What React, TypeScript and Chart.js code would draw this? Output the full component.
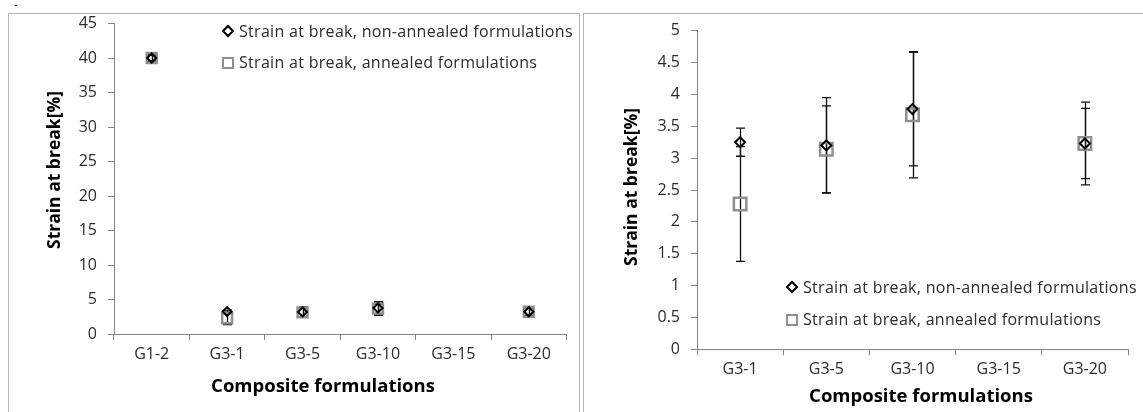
import React, { useEffect, useRef } from 'react';
import { Chart, registerables } from 'chart.js';

Chart.register(...registerables);

// ---------- DATA ----------
const leftCategories = ['G1-2', 'G3-1', 'G3-5', 'G3-10', 'G3-15', 'G3-20'];
const leftNonAnnealed = [40, 3.25, 3.2, 3.77, null, 3.23];
const leftNonAnnealedErr = [0.4, 0.22, 0.75, 0.89, null, 0.55];
const leftAnnealed = [40, 2.28, 3.14, 3.68, null, 3.23];
const leftAnnealedErr = [0.4, 0.9, 0.68, 0.99, null, 0.65];
const leftYTicks = [0, 5, 10, 15, 20, 25, 30, 35, 40, 45];

const rightCategories = ['G3-1', 'G3-5', 'G3-10', 'G3-15', 'G3-20'];
const rightNonAnnealed = [3.25, 3.2, 3.77, null, 3.23];
const rightNonAnnealedErr = [0.22, 0.75, 0.89, null, 0.55];
const rightAnnealed = [2.28, 3.14, 3.68, null, 3.23];
const rightAnnealedErr = [0.9, 0.68, 0.99, null, 0.65];
const rightYTicks = [0, 0.5, 1, 1.5, 2, 2.5, 3, 3.5, 4, 4.5, 5];

const seriesLabels = [
  'Strain at break, non-annealed formulations',
  'Strain at break, annealed formulations',
];
const xTitle = 'Composite formulations';
const yTitle = 'Strain at break[%]';

const FONT = '"Open Sans", "Noto Sans", sans-serif';
const TEXT = '#2b2b2b';
const AXIS = '#868686';
const SQUARE = '#8f8f8f';

// ---------- PLUGINS ----------
const errorBarPlugin = {
  id: 'errorBars',
  beforeDatasetsDraw(chart: any, _a: any, opts: any) {
    const { ctx } = chart;
    const xs = chart.scales.x;
    const ys = chart.scales.y;
    ctx.save();
    ctx.strokeStyle = '#111';
    ctx.lineWidth = 1.3;
    (opts.errors || []).forEach((errs: any[], di: number) => {
      const data = chart.data.datasets[di].data;
      data.forEach((v: any, i: number) => {
        if (v == null || errs[i] == null) return;
        const px = Math.round(xs.getPixelForValue(i)) + 0.5;
        const top = ys.getPixelForValue(v + errs[i]);
        const bot = ys.getPixelForValue(v - errs[i]);
        const cw = opts.cap;
        ctx.beginPath();
        ctx.moveTo(px, top);
        ctx.lineTo(px, bot);
        ctx.moveTo(px - cw, top);
        ctx.lineTo(px + cw, top);
        ctx.moveTo(px - cw, bot);
        ctx.lineTo(px + cw, bot);
        ctx.stroke();
      });
    });
    ctx.restore();
  },
};

function drawMarker(ctx: any, style: string, x: number, y: number, r: number, color: string, lw: number) {
  ctx.save();
  ctx.strokeStyle = color;
  ctx.lineWidth = lw;
  ctx.beginPath();
  if (style === 'rectRot') {
    ctx.moveTo(x - r, y);
    ctx.lineTo(x, y - r);
    ctx.lineTo(x + r, y);
    ctx.lineTo(x, y + r);
    ctx.closePath();
  } else {
    ctx.rect(x - r, y - r, 2 * r, 2 * r);
  }
  ctx.stroke();
  ctx.restore();
}

const customLegendPlugin = {
  id: 'customLegend',
  afterDraw(chart: any, _a: any, opts: any) {
    const { ctx } = chart;
    ctx.save();
    ctx.font = `${opts.fontSize}px ${FONT}`;
    try {
      (ctx as any).letterSpacing = '0.3px';
    } catch (e) {}
    ctx.fillStyle = TEXT;
    ctx.textBaseline = 'middle';
    ctx.textAlign = 'left';
    chart.data.datasets.forEach((ds: any, i: number) => {
      const y = opts.y + i * opts.gap;
      if (i === 0) drawMarker(ctx, 'rectRot', opts.x, y, 5, '#000', 2);
      else drawMarker(ctx, 'rect', opts.x, y + 1, 5, SQUARE, 2);
      ctx.fillText(ds.label, opts.textX, y + 1);
    });
    ctx.restore();
  },
};

const titlesPlugin = {
  id: 'axisTitles',
  afterDraw(chart: any, _a: any, opts: any) {
    const { ctx } = chart;
    ctx.save();
    ctx.fillStyle = '#000';
    ctx.textAlign = 'center';
    ctx.textBaseline = 'middle';
    ctx.font = `bold ${opts.xSize}px ${FONT}`;
    ctx.fillText(opts.xText, opts.xPos[0], opts.xPos[1]);
    ctx.font = `bold ${opts.ySize}px ${FONT}`;
    ctx.translate(opts.yPos[0], opts.yPos[1]);
    ctx.rotate(-Math.PI / 2);
    ctx.fillText(opts.yText, 0, 0);
    ctx.restore();
  },
};

// ---------- CHART ----------
type PanelProps = {
  categories: string[];
  nonAnnealed: (number | null)[];
  nonErr: (number | null)[];
  annealed: (number | null)[];
  annErr: (number | null)[];
  yTicks: number[];
  width: number;
  height: number;
  yWidth: number;
  xHeight: number;
  padding: any;
  diamondR: number;
  squareR: number;
  legend: any;
  titles: any;
};

function ScatterPanel(p: PanelProps) {
  const ref = useRef<HTMLCanvasElement | null>(null);
  useEffect(() => {
    if (!ref.current) return;
    const tickFont = { family: FONT, size: 16 };
    const chart = new Chart(ref.current, {
      type: 'line',
      data: {
        labels: p.categories,
        datasets: [
          {
            label: seriesLabels[0],
            data: p.nonAnnealed,
            showLine: false,
            pointStyle: 'rectRot',
            pointRadius: p.diamondR,
            pointBorderWidth: 2,
            pointBorderColor: '#000',
            pointBackgroundColor: 'rgba(0,0,0,0)',
            borderColor: '#000',
          },
          {
            label: seriesLabels[1],
            data: p.annealed,
            showLine: false,
            pointStyle: 'rect',
            pointRadius: p.squareR,
            pointBorderWidth: 2.5,
            pointBorderColor: SQUARE,
            pointBackgroundColor: 'rgba(0,0,0,0)',
            borderColor: SQUARE,
          },
        ],
      },
      options: {
        animation: false,
        responsive: false,
        maintainAspectRatio: false,
        events: [],
        layout: { padding: p.padding },
        plugins: {
          legend: { display: false },
          tooltip: { enabled: false },
          errorBars: { errors: [p.nonErr, p.annErr], cap: 4.5 },
          customLegend: p.legend,
          axisTitles: p.titles,
        } as any,
        scales: {
          x: {
            type: 'category',
            offset: true,
            afterFit: (s: any) => {
              s.height = p.xHeight;
              s.paddingLeft = 0;
              s.paddingRight = 0;
            },
            grid: {
              display: true,
              offset: true,
              drawOnChartArea: false,
              drawTicks: true,
              tickLength: 6,
              color: AXIS,
            },
            border: { display: true, color: AXIS, width: 1 },
            ticks: { font: tickFont, color: TEXT, padding: 5, maxRotation: 0 },
          },
          y: {
            type: 'linear',
            min: p.yTicks[0],
            max: p.yTicks[p.yTicks.length - 1],
            afterFit: (s: any) => {
              s.width = p.yWidth;
              s.paddingTop = 0;
              s.paddingBottom = 0;
            },
            afterBuildTicks: (s: any) => {
              s.ticks = p.yTicks.map((v) => ({ value: v }));
            },
            grid: {
              display: true,
              drawOnChartArea: false,
              drawTicks: true,
              tickLength: 6,
              color: AXIS,
            },
            border: { display: true, color: AXIS, width: 1 },
            ticks: {
              font: tickFont,
              color: TEXT,
              padding: 11,
              callback: (v: any) => String(v),
            },
          },
        },
      },
      plugins: [errorBarPlugin, customLegendPlugin, titlesPlugin],
    } as any);
    return () => chart.destroy();
  }, []);
  return <canvas ref={ref} width={p.width} height={p.height} style={{ width: p.width, height: p.height, display: 'block' }} />;
}

export default function App() {
  return (
    <div
      style={{
        position: 'fixed',
        left: 0,
        top: 0,
        width: 1143,
        height: 412,
        overflow: 'hidden',
        background: '#fff',
        fontFamily: FONT,
      }}
    >
      <span style={{ position: 'absolute', left: 14, top: -4, fontSize: 11, color: '#000' }}>-</span>
      <div
        style={{
          position: 'absolute',
          left: 8,
          top: 13,
          width: 572,
          height: 440,
          border: '1.5px solid #b4b4b4',
          boxSizing: 'border-box',
        }}
      />
      <div
        style={{
          position: 'absolute',
          left: 583,
          top: 13,
          width: 600,
          height: 440,
          border: '1.5px solid #b4b4b4',
          boxSizing: 'border-box',
        }}
      />
      <div style={{ position: 'absolute', left: 10, top: 14 }}>
        <ScatterPanel
          categories={leftCategories}
          nonAnnealed={leftNonAnnealed}
          nonErr={leftNonAnnealedErr}
          annealed={leftAnnealed}
          annErr={leftAnnealedErr}
          yTicks={leftYTicks}
          width={566}
          height={398}
          yWidth={104}
          xHeight={78}
          padding={{ top: 9.3, right: 6, left: 0, bottom: 0 }}
          diamondR={4.5}
          squareR={7}
          legend={{ x: 218, y: 17, gap: 31, textX: 229, fontSize: 16 }}
          titles={{ xText: xTitle, yText: yTitle, xPos: [313, 373], yPos: [45, 156], xSize: 18.5, ySize: 17.5 }}
        />
      </div>
      <div style={{ position: 'absolute', left: 585, top: 14 }}>
        <ScatterPanel
          categories={rightCategories}
          nonAnnealed={rightNonAnnealed}
          nonErr={rightNonAnnealedErr}
          annealed={rightAnnealed}
          annErr={rightAnnealedErr}
          yTicks={rightYTicks}
          width={558}
          height={398}
          yWidth={112}
          xHeight={62.7}
          padding={{ top: 16.7, right: 15, left: 0, bottom: 0 }}
          diamondR={5}
          squareR={8.8}
          legend={{ x: 207, y: 273, gap: 32, textX: 218, fontSize: 16 }}
          titles={{ xText: xTitle, yText: yTitle, xPos: [336, 383], yPos: [47, 173], xSize: 18.5, ySize: 17.5 }}
        />
      </div>
    </div>
  );
}
